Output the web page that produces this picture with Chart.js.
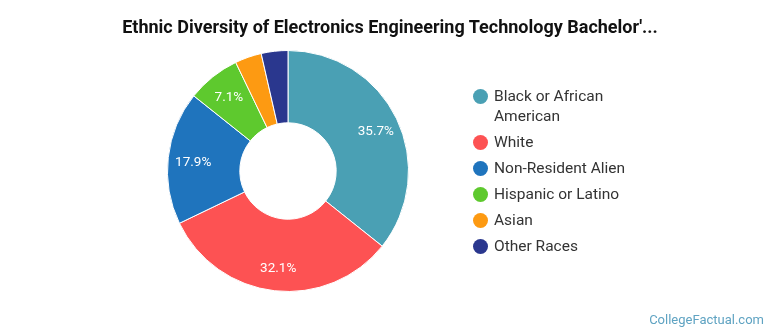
<!DOCTYPE html>
<html><head><meta charset="utf-8">
<script src="https://cdn.jsdelivr.net/npm/chart.js@4/dist/chart.umd.min.js"></script>
<style>
html,body{margin:0;padding:0;background:#fff;}
#wrap{position:relative;width:770px;height:335px;overflow:hidden;font-family:Roboto,"Noto Sans",sans-serif;}
#title{position:absolute;left:0;top:16px;width:780px;text-align:center;font-weight:bold;font-size:18px;color:#111;}
#legend{position:absolute;left:472px;top:86px;font-size:15.5px;color:#333;}
.li{position:relative;padding-left:22px;line-height:20px;margin-bottom:6px;}
.dot{position:absolute;left:1px;top:3px;width:15px;height:15px;border-radius:50%;}
#wm{position:absolute;right:6px;top:312px;font-size:13px;color:#5fa3c2;}
canvas{position:absolute;left:0;top:0;}
</style></head><body>
<div id="wrap">
<canvas id="c" width="770" height="335"></canvas>
<div id="title">Ethnic Diversity of Electronics Engineering Technology Bachelor'...</div>
<div id="legend"></div>
<div id="wm">CollegeFactual.com</div>
</div>
<script>
const categories = ["Black or African American","White","Non-Resident Alien","Hispanic or Latino","Asian","Other Races"];
const legendLines = [["Black or African","American"],["White"],["Non-Resident Alien"],["Hispanic or Latino"],["Asian"],["Other Races"]];
const counts = [10, 9, 5, 2, 1, 1];
const colors = ["#4aa0b4","#fd5253","#1f74bd","#5ec92e","#fd9a12","#2a378e"];

const total = counts.reduce((a,b)=>a+b,0);
const lg = document.getElementById('legend');
legendLines.forEach((lines,i)=>{
  const d=document.createElement('div');d.className='li';
  d.innerHTML='<span class="dot" style="background:'+colors[i]+'"></span>'+lines.join('<br>');
  lg.appendChild(d);
});

const labelPlugin = {
  id:'pctLabels',
  afterDatasetsDraw(chart){
    const ctx=chart.ctx; const meta=chart.getDatasetMeta(0);
    ctx.save();
    ctx.fillStyle='#fff';ctx.font='13.5px Roboto, sans-serif';ctx.textAlign='center';ctx.textBaseline='middle';
    meta.data.forEach((arc,i)=>{
      const pct=counts[i]/total*100;
      if(pct<5) return;
      const ang=(arc.startAngle+arc.endAngle)/2;
      const r=arc.outerRadius*0.8;
      ctx.fillText(pct.toFixed(1)+'%', arc.x+Math.cos(ang)*r+1, arc.y+Math.sin(ang)*r+2);
    });
    ctx.restore();
  }
};

new Chart(document.getElementById('c'),{
  type:'doughnut',
  data:{labels:categories,datasets:[{data:counts,backgroundColor:colors,borderColor:'#fff',borderWidth:1}]},
  options:{
    responsive:false,animation:false,cutout:'40%',
    layout:{padding:{top:49,bottom:42,left:167,right:361}},
    plugins:{legend:{display:false},tooltip:{enabled:false},title:{display:false}}
  },
  plugins:[labelPlugin]
});
</script>
</body></html>
